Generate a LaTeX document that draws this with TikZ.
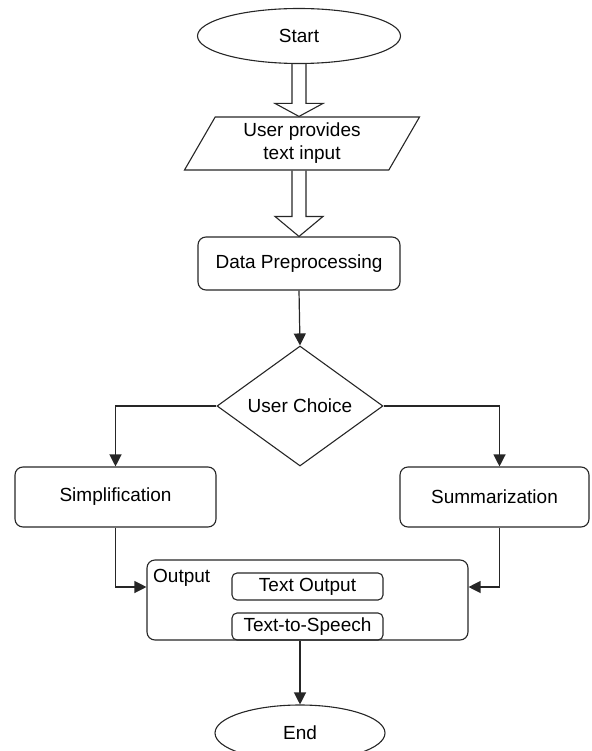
\documentclass[tikz,border=0pt]{standalone}
\usepackage{fontspec}
\setmainfont{Liberation Sans}
\usepackage{tikz}
\usetikzlibrary{arrows.meta,calc,shapes.geometric,shapes.misc}

% hollow block arrow between two points: #1 tail, #2 tip, #3 head length
\newcommand{\hollowarrow}[3]{%
  \draw[line width=1.1pt, draw=black!85, line join=miter]
    ($(#1)+(-7,0)$) -- ($(#2)+(-7,-#3)$) -- ($(#2)+(-24,-#3)$) -- (#2)
    -- ($(#2)+(24,-#3)$) -- ($(#2)+(7,-#3)$) -- ($(#1)+(7,0)$);}

\begin{document}
\begin{tikzpicture}[x=1pt,y=-1pt,
    every node/.style={font=\fontsize{19}{23}\selectfont, text=black},
    box/.style={draw=black!85, line width=1.1pt, rounded corners=8pt, inner sep=0pt},
    term/.style={draw=black!85, line width=1.1pt, ellipse, inner sep=0pt},
    link/.style={draw=black!85, line width=1.2pt, -{Triangle[length=12pt,width=12pt]}}]
  \useasboundingbox (0,0) rectangle (591,751);

  \node[term, minimum width=203pt, minimum height=55pt] (Start) at (299,36) {Start};
  \node[trapezium, trapezium left angle=53, trapezium right angle=127, trapezium stretches body,
        draw=black!85, line width=1.1pt, inner sep=0pt, align=center,
        minimum width=235pt, minimum height=53pt] (Input) at (302,143.5) {User provides\\text input};
  \node[box, minimum width=202pt, minimum height=53pt] (Preprocessing) at (299,263.5) {Data Preprocessing};
  \node[diamond, draw=black!85, line width=1.1pt, inner sep=0pt, aspect=1.38,
        minimum width=166pt, minimum height=120pt] (Choice) at (300,406) {User Choice};
  \node[box, minimum width=201pt, minimum height=60pt] (Simplification) at (115.5,497) {Simplification};
  \node[box, minimum width=189pt, minimum height=60pt] (Summarization) at (494.5,497) {Summarization};

  \node[box, minimum width=321pt, minimum height=80pt] (Output) at (307.5,600) {};
  \node[anchor=north west, inner sep=0pt] (OutputLabel) at (153,569) {Output};
  \node[box, rounded corners=5pt, minimum width=151pt, minimum height=27pt] (TextOutput) at (307.5,586.5) {Text Output};
  \node[box, rounded corners=5pt, minimum width=151pt, minimum height=27pt] (Speech) at (307.5,626.5) {Text-to-Speech};

  \node[term, minimum width=170pt, minimum height=56pt] (End) at (300,733) {End};

  \coordinate (InputTop) at (Start.south |- Input.north);
  \coordinate (InputBottom) at (Start.south |- Input.south);

  \hollowarrow{Start.south}{InputTop}{13}
  \hollowarrow{InputBottom}{Preprocessing.north}{20}
  \draw[link] (Preprocessing.south) -- (Choice.north);
  \draw[link] (Choice.west) -| (Simplification.north);
  \draw[link] (Choice.east) -| ([xshift=5pt]Summarization.north);
  \draw[link] ([xshift=5pt]Summarization.south) |- ([yshift=13pt]Output.east);
  \draw[link] (Simplification.south) |- ([yshift=13pt]Output.west);
  \draw[link] (End.north |- Output.south) -- (End.north);
\end{tikzpicture}
\end{document}
